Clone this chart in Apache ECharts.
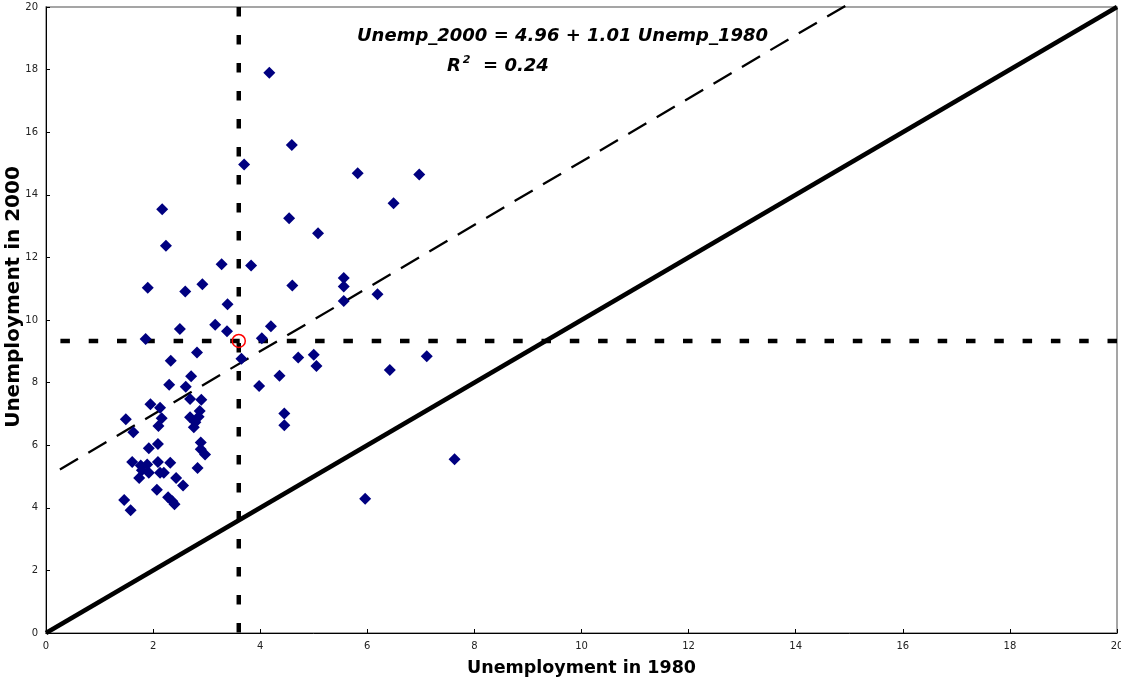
<!DOCTYPE html>
<html>
<head>
<meta charset="utf-8">
<script src="https://cdn.jsdelivr.net/npm/echarts@6/dist/echarts.min.js"></script>
<style>
  html, body { margin: 0; padding: 0; background: #fff; }
  #chart { width: 1121px; height: 682px; }
</style>
</head>
<body>
<div id="chart"></div>
<script>
// Unemployment rates (%) by region, 1980 vs 2000
const unemp1980 = [
  4.17, 4.59, 3.70, 5.82, 6.97, 6.49, 2.17, 4.54, 5.08, 2.24,
  3.28, 3.83, 5.56, 5.56, 1.90, 2.60, 2.92, 4.60, 5.56, 6.19,
  3.39, 3.16, 2.50, 3.38, 4.20, 4.03, 1.86, 2.82, 2.33, 3.65,
  4.71, 5.00, 5.05, 7.11, 6.42, 4.36, 2.71, 3.98, 2.30, 2.61,
  2.69, 2.90, 1.95, 2.13, 2.87, 4.45, 4.45, 2.16, 2.69, 2.85,
  2.79, 2.76, 1.49, 2.10, 1.63, 2.09, 1.92, 2.89, 2.89, 2.97,
  7.63, 1.61, 1.77, 1.89, 2.09, 2.32, 2.83, 1.79, 1.92, 2.13,
  2.20, 1.74, 2.43, 2.56, 2.07, 2.28, 2.36, 2.40, 1.46, 1.58,
  5.96
];
const unemp2000 = [
  17.90, 15.59, 14.97, 14.69, 14.65, 13.73, 13.54, 13.25, 12.77, 12.37,
  11.78, 11.74, 11.34, 11.07, 11.03, 10.91, 11.14, 11.10, 10.61, 10.82,
  10.50, 9.85, 9.71, 9.64, 9.80, 9.42, 9.39, 8.96, 8.70, 8.76,
  8.80, 8.89, 8.53, 8.84, 8.40, 8.22, 8.20, 7.89, 7.93, 7.87,
  7.48, 7.45, 7.31, 7.20, 7.09, 7.01, 6.64, 6.86, 6.89, 6.91,
  6.73, 6.57, 6.83, 6.61, 6.41, 6.04, 5.90, 6.09, 5.87, 5.70,
  5.55, 5.46, 5.35, 5.38, 5.46, 5.44, 5.27, 5.20, 5.12, 5.12,
  5.12, 4.95, 4.95, 4.71, 4.58, 4.34, 4.21, 4.11, 4.25, 3.92,
  4.29
];

// Averages of both years and the fitted regression line
const mean1980 = 3.60;
const mean2000 = 9.33;
const fitIntercept = 4.96;
const fitSlope = 1.01;
const fitRange = [0.26, 15.05];
const rSquared = 0.24;

const axisMin = 0, axisMax = 20, axisStep = 2;

const points = unemp1980.map((x, i) => [x, unemp2000[i]]);
const fitLine = fitRange.map(x => [x, fitIntercept + fitSlope * x]);
const diagonal = [[axisMin, axisMin], [axisMax, axisMax]];
const vMean = [[mean1980, axisMax], [mean1980, axisMin]];
const hMean = [[axisMax, mean2000], [axisMin, mean2000]];

const chart = echarts.init(document.getElementById('chart'), null, { renderer: 'canvas' });

const labelFont = 'DejaVu Sans';

function valueAxis(name) {
  return {
    type: 'value',
    min: axisMin, max: axisMax, interval: axisStep,
    name: name,
    nameLocation: 'middle',
    nameGap: 26,
    nameTextStyle: { fontFamily: labelFont, fontWeight: 'bold', fontSize: 17.5, color: '#000' },
    axisLine: { show: true, lineStyle: { color: '#000', width: 1 } },
    axisTick: { show: true, inside: true, length: 4, lineStyle: { color: '#000' } },
    axisLabel: { fontFamily: labelFont, fontSize: 10, color: '#222', margin: 8 },
    splitLine: { show: false }
  };
}

const yAxisOpt = valueAxis('');

chart.setOption({
  animation: false,
  backgroundColor: '#fff',
  grid: {
    left: 46, right: 4, top: 7, bottom: 49,
    containLabel: false, outerBoundsMode: 'none',
    show: true, borderColor: '#888', borderWidth: 1.5, backgroundColor: 'transparent'
  },
  xAxis: valueAxis('Unemployment in 1980'),
  yAxis: yAxisOpt,
  graphic: [
    {
      type: 'text', x: 14, y: 297, rotation: Math.PI / 2,
      style: {
        text: 'Unemployment in 2000',
        font: 'bold 20px "DejaVu Sans"', fill: '#000',
        align: 'center', verticalAlign: 'middle'
      }
    },
    {
      type: 'text', left: 357, top: 27,
      style: {
        text: 'Unemp_2000 = ' + fitIntercept.toFixed(2) + ' + ' + fitSlope.toFixed(2) + ' Unemp_1980',
        font: 'italic bold 18px "DejaVu Sans"', fill: '#000'
      }
    },
    {
      type: 'text', left: 447, top: 55,
      style: {
        text: '{b|R}{s|2}{b|  = ' + rSquared.toFixed(2) + '}',
        rich: {
          b: { font: 'italic bold 18px "DejaVu Sans"', fill: '#000', verticalAlign: 'bottom' },
          s: { font: 'italic bold 11px "DejaVu Sans"', fill: '#000', padding: [0, 0, 9, 2], verticalAlign: 'bottom' }
        }
      }
    }
  ],
  series: [
    {
      type: 'line', data: diagonal, symbol: 'none', z: 2,
      lineStyle: { color: '#000', width: 4.5 }
    },
    {
      type: 'line', data: fitLine, symbol: 'none', z: 2, clip: false,
      lineStyle: { color: '#000', width: 2.3, type: [21, 12] }
    },
    {
      type: 'line', data: vMean, symbol: 'none', z: 2,
      lineStyle: { color: '#000', width: 4.5, type: [9.5, 18.5] }
    },
    {
      type: 'line', data: hMean, symbol: 'none', z: 2,
      lineStyle: { color: '#000', width: 4.5, type: [9.5, 18.8] }
    },
    {
      type: 'scatter', data: points, symbol: 'diamond', symbolSize: 12, z: 3,
      itemStyle: { color: '#000080', opacity: 1 }
    },
    {
      type: 'scatter', data: [[mean1980, mean2000]], symbol: 'circle', symbolSize: 13, z: 4,
      itemStyle: { color: 'rgba(0,0,0,0)', borderColor: '#ff0000', borderWidth: 1.5, opacity: 1 }
    }
  ]
});
</script>
</body>
</html>
